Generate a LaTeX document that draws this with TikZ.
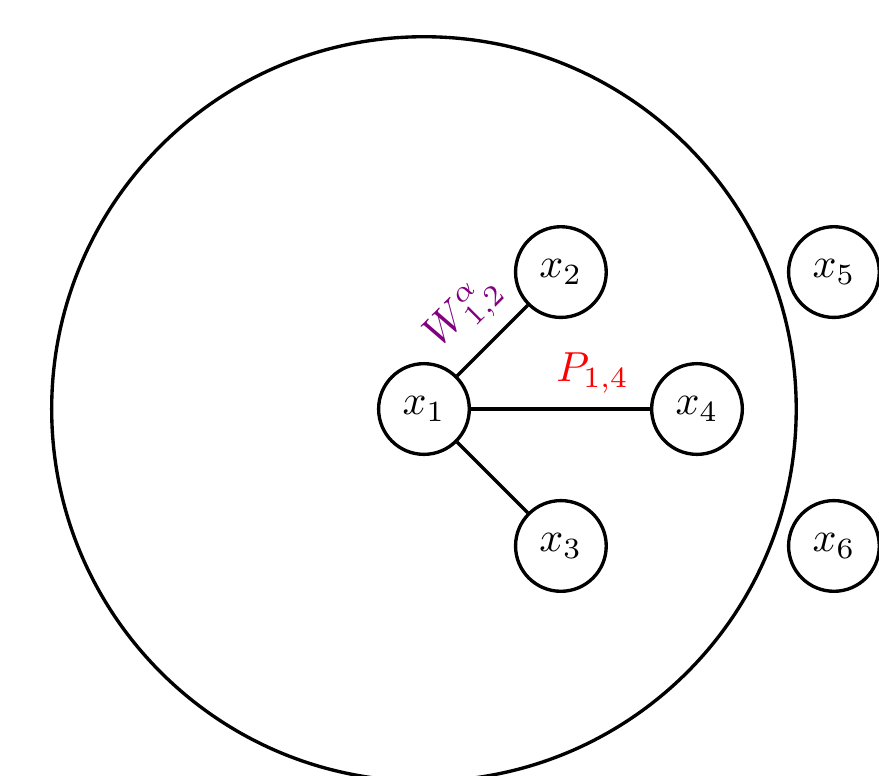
\documentclass[tikz,border=0pt]{standalone}
\usepackage{amsmath,amssymb}
\usetikzlibrary{positioning}
\definecolor{nbrPurple}{HTML}{800080}
\definecolor{nbrRed}{HTML}{FF0000}

\begin{document}
\begin{tikzpicture}[line width=0.8pt, on grid, node distance=1.146cm,
   var/.style={draw,circle,minimum size=0.759cm,inner sep=0pt},
   ball/.style={draw,circle,minimum size=6.231cm,inner sep=0pt}]
  \useasboundingbox (-3.548,-3.071) rectangle (3.808,3.423);
  \node[var] (x1) at (0,0) {$x_1$};
  \node[ball] (ball) at (x1) {};
  \node[var,above right=1.146cm and 1.146cm of x1] (x2) {$x_2$};
  \node[var,below right=1.146cm and 1.146cm of x1] (x3) {$x_3$};
  \node[var,right=2.285cm of x1] (x4) {$x_4$};
  \node[var,right=2.285cm of x2] (x5) {$x_5$};
  \node[var,right=2.285cm of x3] (x6) {$x_6$};
  % edges out of x1
  \draw (x1) -- node[midway,above,sloped,text=nbrPurple] {$W^{\alpha}_{1,2}$} (x2);
  \draw (x1) -- node[pos=0.68,above,text=nbrRed] {$P_{1,4}$} (x4);
  \draw (x1) -- (x3);
\end{tikzpicture}
\end{document}
